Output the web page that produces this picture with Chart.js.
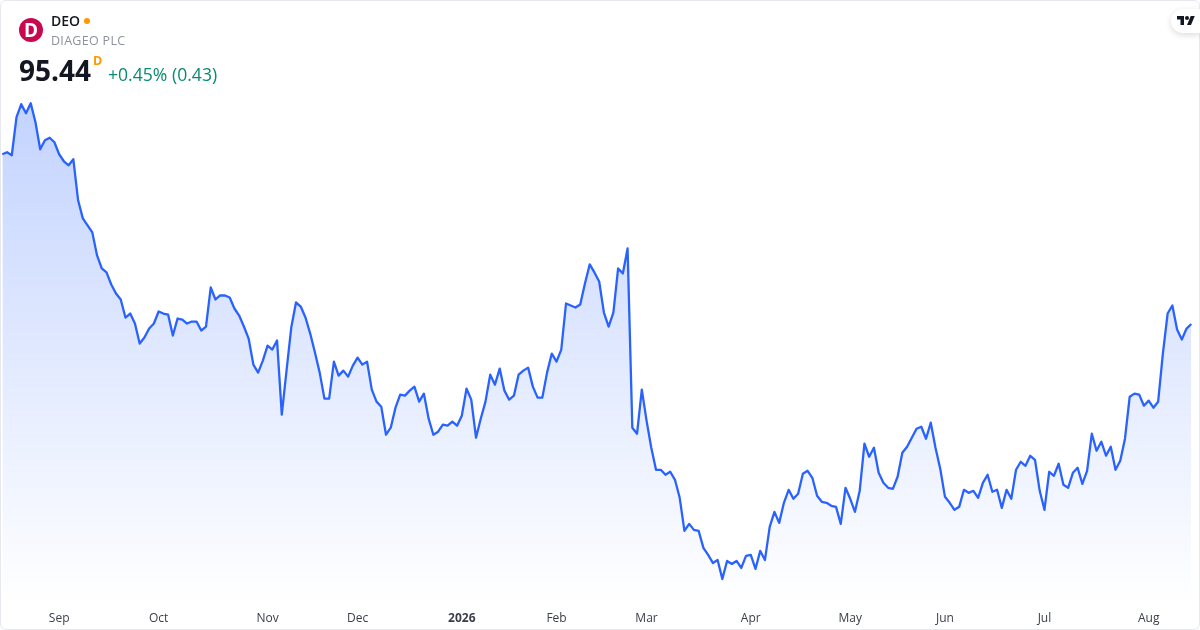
<!DOCTYPE html>
<html>
<head>
<meta charset="utf-8">
<title>DEO</title>
<script src="https://cdn.jsdelivr.net/npm/chart.js@4"></script>
<style>
  html, body { margin: 0; padding: 0; background: #fff; }
  body { width: 1200px; height: 630px; overflow: hidden; position: relative; font-family: "Open Sans", sans-serif; }
  #card { position: absolute; left: 0; top: 0; width: 1198px; height: 628px; border: 1px solid #e6e8ee; border-radius: 6px; }
  #wrap { position: absolute; left: 0; top: 0; width: 1200px; height: 630px; }
  .t { position: absolute; white-space: nowrap; line-height: 1; }
  #logo { position: absolute; left: 19px; top: 18px; width: 24px; height: 24px; border-radius: 50%; background: #c8084f; color: #fff; font-weight: 700; font-size: 19px; line-height: 24px; text-align: center; }
  #dot { position: absolute; left: 84px; top: 17.5px; width: 6px; height: 6px; border-radius: 50%; background: #ff9800; }
  #tv { position: absolute; left: 1171px; top: 9px; width: 29px; height: 24px; background: #fff; border-radius: 12px 0 0 12px; box-shadow: 0 2px 6px rgba(0,0,0,0.14); }
  #tv svg { position: absolute; left: 6px; top: 5px; width: 18px; height: 14px; }
</style>
</head>
<body>
<div id="card"></div>
<div id="wrap"><canvas id="price-chart" width="1200" height="630"></canvas></div>
<div id="logo">D</div>
<div class="t" style="left:51px;top:14px;font-size:14px;font-weight:600;color:#131722;">DEO</div>
<div id="dot"></div>
<div class="t" style="left:51px;top:35px;font-size:12.5px;color:#8f929c;letter-spacing:0.3px;">DIAGEO PLC</div>
<div class="t" style="left:19px;top:56px;font-size:28px;font-weight:700;color:#131722;">95.44</div>
<div class="t" style="left:93px;top:55px;font-size:12.5px;font-weight:700;color:#ff9800;">D</div>
<div class="t" style="left:108px;top:66px;font-size:17.6px;color:#0b8a72;">+0.45% (0.43)</div>
<div id="tv"><svg viewBox="0 0 36 28"><path fill="#131722" d="M14 22H7V11H0V4h14v18zM28 22h-8l7.5-18h8L28 22z"/><circle fill="#131722" cx="20" cy="8" r="4"/></svg></div>
<script>
// ── Data ──────────────────────────────────────────────────────────────────────
const closes = [
  112.39,112.59,112.29,116.09,117.39,116.49,117.49,115.59,112.89,113.79,114.04,113.59,
  112.39,111.69,111.29,111.89,107.79,105.99,105.29,104.59,102.29,100.99,100.59,99.39,
  98.49,97.89,96.09,96.49,95.49,93.49,94.09,94.99,95.49,96.69,96.49,96.39,
  94.29,95.99,95.89,95.49,95.69,95.69,94.79,95.19,99.09,97.89,98.29,98.29,
  98.09,96.99,96.29,95.19,93.99,91.39,90.59,91.79,93.29,92.89,93.79,86.39,
  90.79,95.09,97.59,97.19,96.09,94.49,92.59,90.59,87.99,87.99,91.69,90.29,
  90.79,90.19,91.29,92.09,91.39,91.69,88.89,87.69,87.19,84.39,85.09,87.09,
  88.39,88.29,88.79,89.19,87.69,88.49,85.99,84.39,84.69,85.39,85.29,85.69,
  85.29,86.29,88.99,87.89,84.09,85.99,87.69,90.39,89.39,90.99,88.79,87.89,
  88.29,90.39,90.79,91.09,89.19,88.09,88.09,90.59,92.49,91.69,92.89,97.49,
  97.29,97.09,97.39,99.49,101.39,100.59,99.69,96.59,95.19,96.59,100.99,100.49,
  102.99,85.09,84.49,88.89,85.79,83.09,80.89,80.89,80.39,80.69,79.89,78.09,
  74.79,75.49,74.89,74.79,73.09,72.39,71.59,71.89,69.99,71.79,71.49,71.79,
  71.09,72.29,72.39,70.99,72.79,71.89,75.19,76.69,75.59,77.59,78.89,77.99,
  78.49,80.49,80.79,80.09,78.29,77.69,77.59,77.29,77.19,75.49,79.09,77.99,
  76.69,78.79,83.49,82.19,83.09,80.59,79.59,79.09,78.99,80.19,82.59,83.19,
  84.09,84.99,85.19,83.99,85.59,83.09,80.99,78.19,77.59,76.89,77.19,78.89,
  78.59,78.79,78.09,79.59,80.39,78.69,78.89,77.09,78.89,77.99,80.89,81.69,
  81.29,82.29,81.89,78.79,76.89,80.69,80.29,81.49,79.39,79.09,80.59,81.09,
  79.49,80.79,84.49,82.79,83.69,82.29,83.19,80.89,81.79,83.99,88.19,88.49,
  88.39,87.29,87.79,87.09,87.69,92.49,96.49,97.29,94.89,93.89,94.99,95.44,
];
const tickIndexes = [12, 33, 56, 75, 97, 117, 136, 158, 179, 199, 220, 242];
const tickLabels = ["Sep","Oct","Nov","Dec","2026","Feb","Mar","Apr","May","Jun","Jul","Aug"];

// ── Chart ─────────────────────────────────────────────────────────────────────
function areaGradient(ctx) {
  const g = ctx.chart.ctx.createLinearGradient(0, 103, 0, 604);
  g.addColorStop(0, "rgba(41,98,255,0.28)");
  g.addColorStop(1, "rgba(41,98,255,0)");
  return g;
}

new Chart(document.getElementById("price-chart"), {
  type: "line",
  data: {
    labels: closes.map((_, i) => i),
    datasets: [{
      data: closes,
      borderColor: "#2962ff",
      borderWidth: 2.3,
      backgroundColor: areaGradient,
      fill: "start",
      tension: 0,
      pointRadius: 0,
      borderJoinStyle: "round",
    }],
  },
  options: {
    responsive: false,
    animation: false,
    layout: { padding: { left: 2.3, right: 8.7, top: 0, bottom: 0 } },
    plugins: { legend: { display: false }, tooltip: { enabled: false } },
    scales: {
      x: {
        offset: false,
        grid: { display: false },
        border: { display: false },
        afterBuildTicks: scale => { scale.ticks = tickIndexes.map(v => ({ value: v })); },
        afterFit: scale => { scale.height = 26; },
        ticks: {
          autoSkip: false,
          maxRotation: 0,
          padding: -1,
          color: "#3a3e4a",
          font: ctx => ({ family: "'Open Sans'", size: 12, weight: ctx.tick && ctx.tick.label === "2026" ? "700" : "400" }),
          callback: v => tickLabels[tickIndexes.indexOf(v)],
        },
      },
      y: { display: false, min: 67.49, max: 127.79 },
    },
  },
});
</script>
</body>
</html>
